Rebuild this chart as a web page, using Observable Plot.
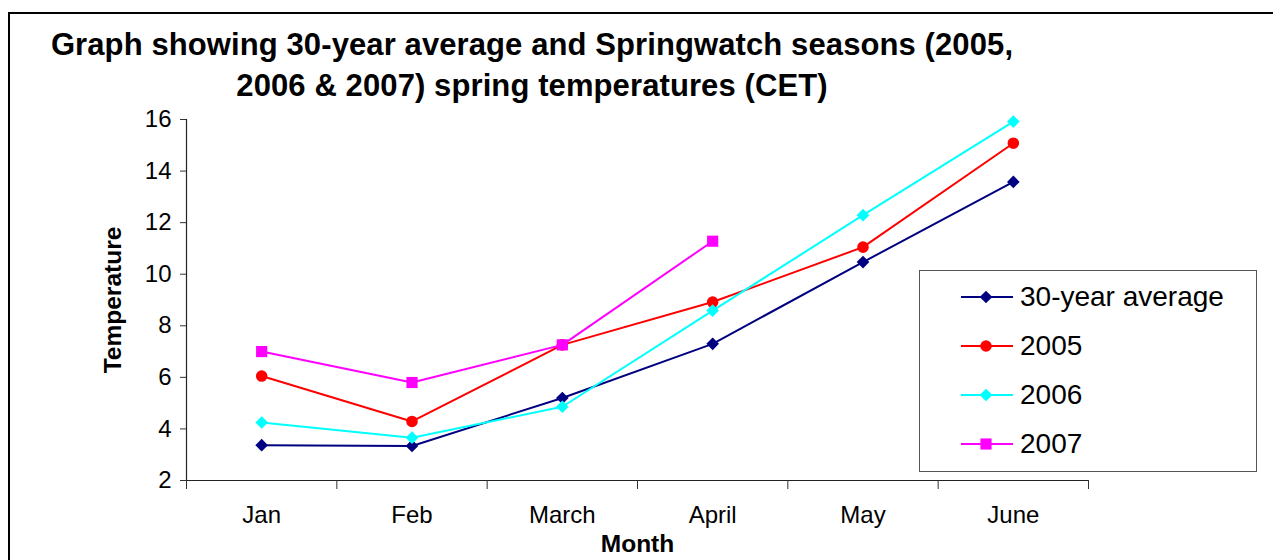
<!DOCTYPE html>
<html><head><meta charset="utf-8">
<script src="https://cdn.jsdelivr.net/npm/d3@7"></script>
<script src="https://cdn.jsdelivr.net/npm/@observablehq/plot@0.6"></script>
<style>
body{margin:0;background:#fff;font-family:"Liberation Sans",Arial,sans-serif}
#wrap{position:relative;width:1273px;height:560px;overflow:hidden;background:#fff}
#frame{position:absolute;left:8px;top:12px;width:1400px;height:700px;border-left:2px solid #000;border-top:2px solid #000;box-sizing:border-box}
#title{position:absolute;left:0;top:24px;width:1064px;text-align:center;font-weight:bold;font-size:31px;line-height:41px;letter-spacing:0.1px;color:#000}
#chart{position:absolute;left:0;top:0}
#legend{position:absolute;left:919px;top:270px;width:338px;height:202px;border:1.5px solid #555;background:#fff;box-sizing:border-box}
.lrow{position:absolute;left:0;height:40px;display:flex;align-items:center}
.lrow span{font-size:28px;color:#000;margin-left:6px}
</style></head><body>
<div id="wrap">
  <div id="frame"></div>
  <div id="chart"></div>
  <div id="title">Graph showing 30-year average and Springwatch seasons (2005,<br>2006 &amp; 2007) spring temperatures (CET)</div>
  <div id="legend"></div>
</div>
<script>
const months = ["Jan", "Feb", "March", "April", "May", "June"];
const seriesNames = ["30-year average", "2005", "2006", "2007"];
const avg30 = [3.37, 3.34, 5.2, 7.3, 10.47, 13.58];
const t2005 = [6.05, 4.29, 7.26, 8.92, 11.05, 15.08];
const t2006 = [4.25, 3.66, 4.86, 8.59, 12.29, 15.92];
const t2007 = [7.0, 5.8, 7.26, 11.28];
const yTicks = [2, 4, 6, 8, 10, 12, 14, 16];
const colors = ["#000080", "#FF0000", "#00FFFF", "#FF00FF"];
const symbols = ["diamond2", "circle", "diamond2", "square"];
const radii = [5.7, 5.8, 5.7, 6.3];

const seriesValues = [avg30, t2005, t2006, t2007];
const rows = seriesValues.map((vals, s) =>
  vals.map((v, i) => ({series: seriesNames[s], month: months[i], idx: i, value: v}))
);

const font = '"Liberation Sans", Arial, sans-serif';
const marks = [
  Plot.ruleY([2], {stroke: "#222", strokeWidth: 1.2}),
  Plot.ruleX([0], {stroke: "#222", strokeWidth: 1.2}),
  Plot.axisY({ticks: yTicks, tickSize: 6, tickPadding: 9, fontSize: 24, label: null, stroke: "#333", color: "#000"}),
  Plot.axisX({ticks: d3.range(0, months.length + 1), tickSize: 9, tickFormat: () => "", label: null, stroke: "#333"}),
  Plot.axisX({ticks: months.map((m, i) => i + 0.5), tickSize: 0, tickPadding: 25, fontSize: 24,
    tickFormat: d => months[Math.floor(d)], label: null}),
  Plot.text(["Temperature"], {frameAnchor: "left", textAnchor: "middle", dx: -73, rotate: -90, fontWeight: "bold", fontSize: 24.5, fill: "#000"}),
  Plot.text(["Month"], {frameAnchor: "bottom", textAnchor: "middle", dy: 71, fontWeight: "bold", fontSize: 24.5, fill: "#000"})
];
rows.forEach((data, s) => {
  marks.push(Plot.line(data, {x: d => d.idx + 0.5, y: "value", stroke: colors[s], strokeWidth: 2}));
  marks.push(Plot.dot(data, {x: d => d.idx + 0.5, y: "value", fill: colors[s], stroke: "none", symbol: () => symbols[s], r: radii[s]}));
});

const plot = Plot.plot({
  width: 1273,
  height: 560,
  marginLeft: 186,
  marginRight: 185,
  marginTop: 119,
  marginBottom: 80,
  style: {fontFamily: font, background: "transparent", color: "#000", overflow: "visible"},
  x: {type: "linear", domain: [0, months.length]},
  y: {domain: [2, 16]},
  symbol: {type: "identity"},
  marks
});
document.getElementById("chart").appendChild(plot);

// legend
const legend = document.getElementById("legend");
const centers = [26, 75, 124, 173];
const symMap = {diamond2: d3.symbolDiamond2, circle: d3.symbolCircle, square: d3.symbolSquare};
seriesNames.forEach((name, s) => {
  const row = document.createElement("div");
  row.className = "lrow";
  row.style.top = (centers[s] - 20) + "px";
  const svg = d3.create("svg").attr("width", 94).attr("height", 40);
  svg.append("line").attr("x1", 41).attr("x2", 93).attr("y1", 20).attr("y2", 20)
    .attr("stroke", colors[s]).attr("stroke-width", 2);
  svg.append("path").attr("transform", "translate(66,20)")
    .attr("d", d3.symbol(symMap[symbols[s]], radii[s] * radii[s] * Math.PI)())
    .attr("fill", colors[s]);
  row.appendChild(svg.node());
  const span = document.createElement("span");
  span.textContent = name;
  row.appendChild(span);
  legend.appendChild(row);
});
</script>
</body></html>
